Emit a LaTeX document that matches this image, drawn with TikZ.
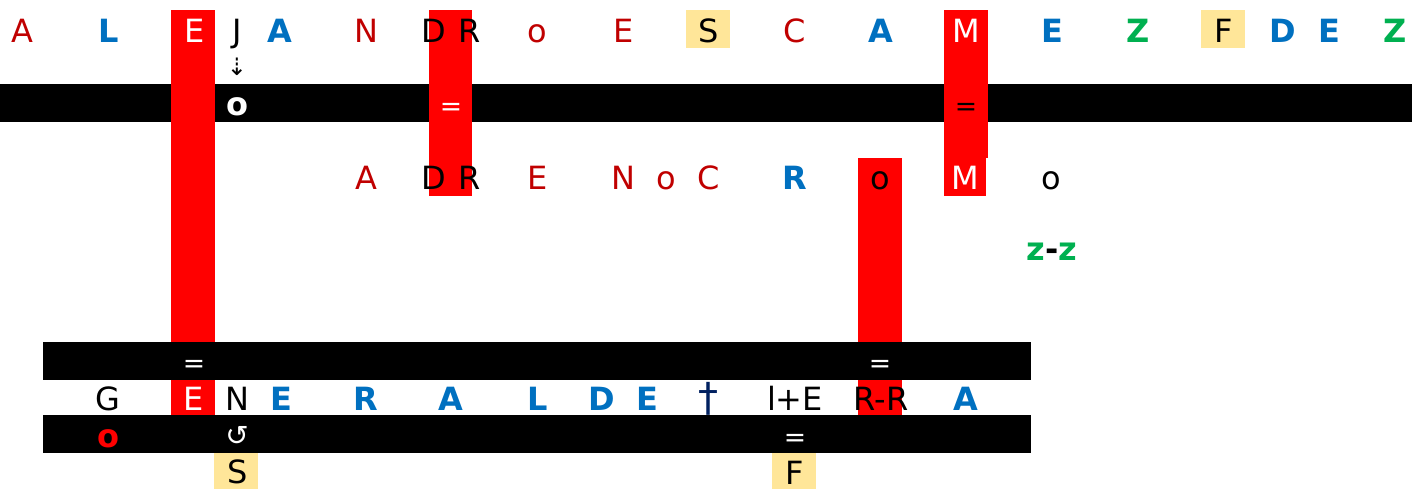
\documentclass[tikz,border=0pt]{standalone}
\usepackage{fontspec}
\setmainfont{DejaVu Sans}
\definecolor{dred}{HTML}{C00000}
\definecolor{blu}{HTML}{0070C0}
\definecolor{grn}{HTML}{00B050}
\definecolor{gold}{HTML}{FFE699}
\definecolor{navy}{HTML}{002060}

\tikzset{
  ltr/.style={inner sep=0pt, anchor=base, font=\fontsize{24}{28}\selectfont},
  rd/.style={ltr, text=dred},
  bl/.style={ltr, text=blu, font=\fontsize{24}{28}\selectfont\bfseries},
  gr/.style={ltr, text=grn, font=\fontsize{24}{28}\selectfont\bfseries},
  wh/.style={ltr, text=white},
  eqs/.style={ltr, font=\fontsize{20}{22}\selectfont},
}

\begin{document}
\begin{tikzpicture}[x=0.75pt, y=-0.75pt]
\useasboundingbox (0,0) rectangle (1412,489);

% bars, columns and boxes
\fill[black] (0,84) rectangle (1412,122);
\fill[red] (171,10) rectangle (215,415);
\fill[red] (429,10) rectangle (472,196);
\fill[red] (944,10) rectangle (988,158);
\fill[red] (944,158) rectangle (986,196);
\fill[red] (858,158) rectangle (902,415);
\fill[gold] (686,10) rectangle (730,48);
\fill[gold] (1201,10) rectangle (1245,48);
\fill[gold] (214,453) rectangle (258,489);
\fill[gold] (772,453) rectangle (816,489);
\fill[black] (43,342) rectangle (1031,380);
\fill[black] (43,415) rectangle (1031,453);

% top row
\node[rd] (t1) at (22,42.5) {A};
\node[bl] (t2) at (109,42.5) {L};
\node[wh] (t3) at (195,42.5) {E};
\node[ltr] (t4) at (237,42.5) {J};
\node[bl] (t5) at (280,42.5) {A};
\node[rd] (t6) at (366,42.5) {N};
\node[ltr] (t7) at (434,42.5) {D};
\node[ltr] (t8) at (470,42.5) {R};
\node[rd] (t9) at (537,42.5) {o};
\node[rd] (t10) at (624,42.5) {E};
\node[ltr] (t11) at (709,42.5) {S};
\node[rd] (t12) at (795,42.5) {C};
\node[bl] (t13) at (881,42.5) {A};
\node[wh] (t14) at (966,42.5) {M};
\node[bl] (t15) at (1052,42.5) {E};
\node[gr] (t16) at (1138,42.5) {Z};
\node[ltr] (t17) at (1224,42.5) {F};
\node[bl] (t18) at (1283,42.5) {D};
\node[bl] (t19) at (1329,42.5) {E};
\node[gr] (t20) at (1395,42.5) {Z};
\node[ltr, font=\fontsize{18}{20}\selectfont] (dn) at (237,75) {⇣};

% top bar
\node[wh, font=\fontsize{24}{28}\selectfont\bfseries] (o1) at (237,115) {o};
\node[eqs, text=white] (eq1) at (451,115) {=};
\node[eqs] (eq2) at (966,115) {=};

% middle row
\node[rd] (m1) at (366,189.5) {A};
\node[ltr] (m2) at (434,189.5) {D};
\node[ltr] (m3) at (470,189.5) {R};
\node[rd] (m4) at (538,189.5) {E};
\node[rd] (m5) at (623,189.5) {N};
\node[rd] (m6) at (666,189.5) {o};
\node[rd] (m7) at (709,189.5) {C};
\node[bl] (m8) at (795,189.5) {R};
\node[ltr] (m9) at (880,189.5) {o};
\node[wh] (m10) at (965,189.5) {M};
\node[ltr] (m11) at (1051,189.5) {o};
\node[gr] (zz) at (1052,260) {z\textcolor{black}{-}z};

% lower bars and bottom row
\node[eqs, text=white] (eq3) at (194,372) {=};
\node[eqs, text=white] (eq4) at (880,372) {=};
\node[ltr] (b1) at (108,410) {G};
\node[wh] (b2) at (194,410) {E};
\node[ltr] (b3) at (237,410) {N};
\node[bl] (b4) at (281,410) {E};
\node[bl] (b5) at (366,410) {R};
\node[bl] (b6) at (451,410) {A};
\node[bl] (b7) at (538,410) {L};
\node[bl] (b8) at (602,410) {D};
\node[bl] (b9) at (647,410) {E};
\node[ltr, text=navy, font=\fontsize{30}{32}\selectfont] (b10) at (708,411) {†};
\node[ltr] (b11) at (795,410) {l+E};
\node[ltr] (b12) at (881,410) {R-R};
\node[bl] (b13) at (966,410) {A};
\node[ltr, text=red, font=\fontsize{24}{28}\selectfont\bfseries] (o2) at (108,447) {o};
\node[wh, font=\fontsize{21}{24}\selectfont] (rot) at (237,445) {↺};
\node[eqs, text=white] (eq5) at (795,446.5) {=};
\node[ltr] (s1) at (238,483) {S};
\node[ltr] (f1) at (795,484) {F};
\end{tikzpicture}
\end{document}
